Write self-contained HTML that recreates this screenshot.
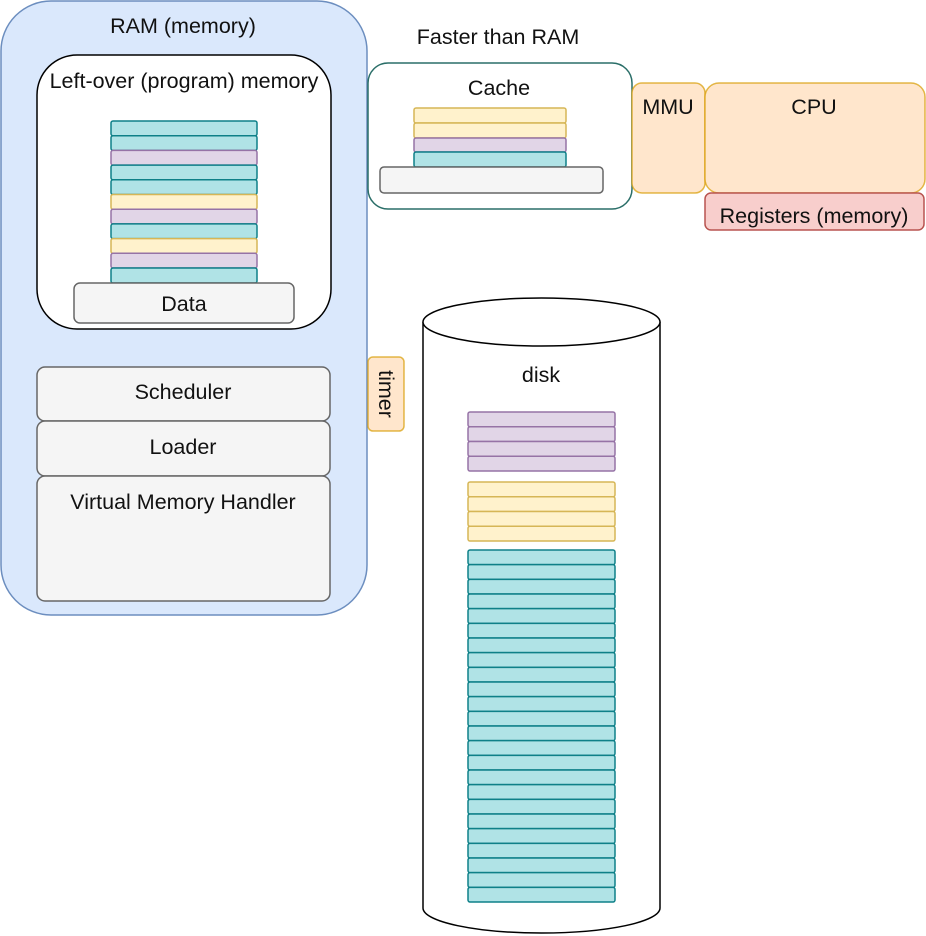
<!DOCTYPE html>
<html><head><meta charset="utf-8"><style>
html,body{margin:0;padding:0;background:#fff;}
svg{display:block;font-family:"Liberation Sans",Arial,sans-serif;}
text{font-size:21.5px;fill:#111;}
.t{fill:#b0e3e6;stroke:#0e8088;stroke-width:1.5}
.p{fill:#e1d5e7;stroke:#9673a6;stroke-width:1.5}
.y{fill:#fff2cc;stroke:#d6b656;stroke-width:1.5}
.g{fill:#f5f5f5;stroke:#666;stroke-width:1.5}
</style></head><body>
<svg width="926" height="936" viewBox="0 0 926 936" xmlns="http://www.w3.org/2000/svg">
<rect x="1" y="1" width="366" height="614" rx="50" fill="#dae8fc" stroke="#6c8ebf" stroke-width="1.5"/>
<text x="183" y="33" text-anchor="middle">RAM (memory)</text>
<rect x="37" y="55" width="294" height="274" rx="40" fill="#fff" stroke="#000" stroke-width="1.5"/>
<text x="184" y="88" text-anchor="middle">Left-over (program) memory</text>
<g>
<rect class="t" x="111" y="121" width="146" height="14.7" rx="2"/>
<rect class="t" x="111" y="135.7" width="146" height="14.7" rx="2"/>
<rect class="p" x="111" y="150.4" width="146" height="14.7" rx="2"/>
<rect class="t" x="111" y="165.1" width="146" height="14.7" rx="2"/>
<rect class="t" x="111" y="179.8" width="146" height="14.7" rx="2"/>
<rect class="y" x="111" y="194.5" width="146" height="14.7" rx="2"/>
<rect class="p" x="111" y="209.2" width="146" height="14.7" rx="2"/>
<rect class="t" x="111" y="223.9" width="146" height="14.7" rx="2"/>
<rect class="y" x="111" y="238.6" width="146" height="14.7" rx="2"/>
<rect class="p" x="111" y="253.3" width="146" height="14.7" rx="2"/>
<rect class="t" x="111" y="268" width="146" height="15" rx="2"/>
</g>
<rect class="g" x="74" y="283" width="220" height="40" rx="6"/>
<text x="184" y="311" text-anchor="middle">Data</text>
<rect class="g" x="37" y="367" width="293" height="54" rx="8"/>
<text x="183" y="399" text-anchor="middle">Scheduler</text>
<rect class="g" x="37" y="421" width="293" height="55" rx="8"/>
<text x="183" y="454" text-anchor="middle">Loader</text>
<rect class="g" x="37" y="476" width="293" height="125" rx="8"/>
<text x="183" y="509" text-anchor="middle">Virtual Memory Handler</text>
<rect x="368" y="357" width="36" height="74" rx="5" fill="#ffe6cc" stroke="#d79b00" stroke-width="1.5" stroke-opacity="0.7"/>
<text x="0" y="0" text-anchor="middle" transform="translate(379,394) rotate(90)">timer</text>
<text x="498" y="44" text-anchor="middle">Faster than RAM</text>
<rect x="368" y="63" width="264" height="146" rx="20" fill="#fff" stroke="#2a6e68" stroke-width="1.5"/>
<text x="499" y="95" text-anchor="middle">Cache</text>
<rect class="y" x="414" y="108" width="152" height="15" rx="2"/>
<rect class="y" x="414" y="123" width="152" height="15" rx="2"/>
<rect class="p" x="414" y="138" width="152" height="14" rx="2"/>
<rect class="t" x="414" y="152" width="152" height="15" rx="2"/>
<rect class="g" x="380" y="167" width="223" height="26" rx="4"/>
<rect x="632" y="83" width="73" height="110" rx="10" fill="#ffe6cc" stroke="#d79b00" stroke-width="1.5" stroke-opacity="0.7"/>
<text x="668" y="114" text-anchor="middle">MMU</text>
<rect x="705" y="83" width="220" height="110" rx="14" fill="#ffe6cc" stroke="#d79b00" stroke-width="1.5" stroke-opacity="0.7"/>
<text x="814" y="114" text-anchor="middle">CPU</text>
<rect x="705" y="193" width="219" height="37" rx="6" fill="#f8cecc" stroke="#b85450" stroke-width="1.5"/>
<text x="814" y="223" text-anchor="middle">Registers (memory)</text>
<path d="M423,322 L423,908 A118.5,25 0 0 0 660,908 L660,322" fill="#fff" stroke="#000" stroke-width="1.5"/>
<ellipse cx="541.5" cy="322" rx="118.5" ry="24" fill="#fff" stroke="#000" stroke-width="1.5"/>
<text x="541" y="382" text-anchor="middle">disk</text>
<g>
<rect class="p" x="468" y="412" width="147" height="14.75" rx="2"/>
<rect class="p" x="468" y="426.75" width="147" height="14.75" rx="2"/>
<rect class="p" x="468" y="441.5" width="147" height="14.75" rx="2"/>
<rect class="p" x="468" y="456.25" width="147" height="14.75" rx="2"/>
<rect class="y" x="468" y="482" width="147" height="14.75" rx="2"/>
<rect class="y" x="468" y="496.75" width="147" height="14.75" rx="2"/>
<rect class="y" x="468" y="511.5" width="147" height="14.75" rx="2"/>
<rect class="y" x="468" y="526.25" width="147" height="14.75" rx="2"/>
</g>
<g>
<rect class="t" x="468" y="550" width="147" height="14.67" rx="2"/>
<rect class="t" x="468" y="564.67" width="147" height="14.67" rx="2"/>
<rect class="t" x="468" y="579.33" width="147" height="14.67" rx="2"/>
<rect class="t" x="468" y="594" width="147" height="14.67" rx="2"/>
<rect class="t" x="468" y="608.67" width="147" height="14.67" rx="2"/>
<rect class="t" x="468" y="623.33" width="147" height="14.67" rx="2"/>
<rect class="t" x="468" y="638" width="147" height="14.67" rx="2"/>
<rect class="t" x="468" y="652.67" width="147" height="14.67" rx="2"/>
<rect class="t" x="468" y="667.33" width="147" height="14.67" rx="2"/>
<rect class="t" x="468" y="682" width="147" height="14.67" rx="2"/>
<rect class="t" x="468" y="696.67" width="147" height="14.67" rx="2"/>
<rect class="t" x="468" y="711.33" width="147" height="14.67" rx="2"/>
<rect class="t" x="468" y="726" width="147" height="14.67" rx="2"/>
<rect class="t" x="468" y="740.67" width="147" height="14.67" rx="2"/>
<rect class="t" x="468" y="755.33" width="147" height="14.67" rx="2"/>
<rect class="t" x="468" y="770" width="147" height="14.67" rx="2"/>
<rect class="t" x="468" y="784.67" width="147" height="14.67" rx="2"/>
<rect class="t" x="468" y="799.33" width="147" height="14.67" rx="2"/>
<rect class="t" x="468" y="814" width="147" height="14.67" rx="2"/>
<rect class="t" x="468" y="828.67" width="147" height="14.67" rx="2"/>
<rect class="t" x="468" y="843.33" width="147" height="14.67" rx="2"/>
<rect class="t" x="468" y="858" width="147" height="14.67" rx="2"/>
<rect class="t" x="468" y="872.67" width="147" height="14.67" rx="2"/>
<rect class="t" x="468" y="887.33" width="147" height="14.67" rx="2"/>
</g>
</svg>
</body></html>
